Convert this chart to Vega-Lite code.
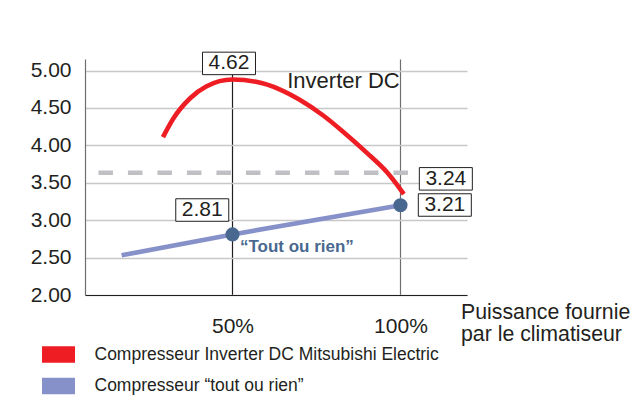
{
  "$schema": "https://vega.github.io/schema/vega-lite/v6.json",
  "width": 382,
  "height": 236,
  "autosize": {"type": "none"},
  "padding": {"left": 85, "top": 59, "right": 177, "bottom": 117},
  "background": "white",
  "config": {"view": {"stroke": null}, "font": "Liberation Sans"},
  "datasets": {
    "curves": [
      {"serie": "Compresseur Inverter DC Mitsubishi Electric", "x": 29.3, "y": 4.11},
      {"serie": "Compresseur Inverter DC Mitsubishi Electric", "x": 32.4, "y": 4.36},
      {"serie": "Compresseur Inverter DC Mitsubishi Electric", "x": 37.4, "y": 4.63},
      {"serie": "Compresseur Inverter DC Mitsubishi Electric", "x": 42.3, "y": 4.79},
      {"serie": "Compresseur Inverter DC Mitsubishi Electric", "x": 50, "y": 4.88},
      {"serie": "Compresseur Inverter DC Mitsubishi Electric", "x": 57, "y": 4.85},
      {"serie": "Compresseur Inverter DC Mitsubishi Electric", "x": 64, "y": 4.75},
      {"serie": "Compresseur Inverter DC Mitsubishi Electric", "x": 70, "y": 4.61},
      {"serie": "Compresseur Inverter DC Mitsubishi Electric", "x": 77, "y": 4.40},
      {"serie": "Compresseur Inverter DC Mitsubishi Electric", "x": 83, "y": 4.18},
      {"serie": "Compresseur Inverter DC Mitsubishi Electric", "x": 90, "y": 3.90},
      {"serie": "Compresseur Inverter DC Mitsubishi Electric", "x": 96, "y": 3.64},
      {"serie": "Compresseur Inverter DC Mitsubishi Electric", "x": 101, "y": 3.35},
      {"serie": "Compresseur “tout ou rien”", "x": 17, "y": 2.53},
      {"serie": "Compresseur “tout ou rien”", "x": 50, "y": 2.81},
      {"serie": "Compresseur “tout ou rien”", "x": 100, "y": 3.2}
    ],
    "dashed": [{"x": 10.1, "x2": 102.3, "y": 3.634}],
    "dots": [{"x": 50, "y": 2.81}, {"x": 100, "y": 3.2}],
    "boxes": [
      {"label": "4.62", "x": 48.96, "y": 5.096},
      {"label": "2.81", "x": 41.0, "y": 3.136},
      {"label": "3.24", "x": 113.5, "y": 3.553},
      {"label": "3.21", "x": 113.2, "y": 3.203}
    ],
    "notes": [{"text": "Inverter DC", "x": 66.3, "y": 4.762}],
    "notes2": [{"text": "“Tout ou rien”", "x": 52.2, "y": 2.578}]
  },
  "encoding": {
    "x": {
      "field": "x", "type": "quantitative",
      "scale": {"domain": [6.1, 119.8], "nice": false, "zero": false},
      "axis": {
        "values": [50, 100],
        "labelExpr": "datum.value + '%'",
        "title": ["Puissance fournie", "par le climatiseur"],
        "titleX": 375.5, "titleY": 6.5,
        "titleAlign": "left", "titleBaseline": "top",
        "titleFontSize": 21.3, "titleFontWeight": "normal", "titleColor": "#231f20",
        "titleLineHeight": 22,
        "labelFontSize": 21, "labelColor": "#231f20", "labelPadding": 20,
        "ticks": false,
        "domainColor": "#231f20", "domainWidth": 1.2,
        "grid": true,
        "gridColor": {"condition": {"test": "datum.value === 50", "value": "#231f20"}, "value": "#6d6e71"},
        "gridWidth": 1.2, "gridOpacity": 1
      }
    },
    "y": {
      "field": "y", "type": "quantitative",
      "scale": {"domain": [2, 5.155], "nice": false, "zero": false},
      "axis": {
        "values": [2, 2.5, 3, 3.5, 4, 4.5, 5],
        "format": ".2f",
        "title": null,
        "labelFontSize": 21, "labelColor": "#231f20", "labelPadding": 14,
        "ticks": false,
        "domainColor": "#6d6e71", "domainWidth": 1.2,
        "grid": true, "gridColor": "#c8c8c8", "gridWidth": 1.6, "gridOpacity": 1
      }
    }
  },
  "layer": [
    {
      "data": {"name": "dashed"},
      "mark": {"type": "rule", "color": "#c0c0c4", "strokeWidth": 4.3, "strokeDash": [14.5, 15]},
      "encoding": {"x2": {"field": "x2"}}
    },
    {
      "data": {"name": "curves"},
      "mark": {"type": "line", "interpolate": "monotone", "strokeWidth": 4.6},
      "encoding": {
        "color": {
          "field": "serie", "type": "nominal",
          "scale": {
            "domain": ["Compresseur Inverter DC Mitsubishi Electric", "Compresseur “tout ou rien”"],
            "range": ["#ee1d23", "#8791c9"]
          },
          "legend": {
            "orient": "none", "legendX": -43, "legendY": 279,
            "title": null,
            "symbolType": "M-1,-0.5H1V0.5H-1Z", "symbolSize": 1089, "symbolStrokeWidth": 0,
            "labelFontSize": 17.5, "labelColor": "#231f20", "labelOffset": 19.5,
            "labelLimit": 500,
            "rowPadding": 6.5, "padding": 0,
            "encode": {
              "symbols": {
                "update": {
                  "fill": {"scale": "color", "field": "value"},
                  "fillOpacity": {"value": 1},
                  "strokeWidth": {"value": 0}
                }
              }
            }
          }
        }
      }
    },
    {
      "data": {"name": "dots"},
      "mark": {"type": "point", "filled": true, "size": 200, "color": "#49688f", "opacity": 1}
    },
    {
      "data": {"name": "boxes"},
      "mark": {"type": "rect", "width": 53, "height": 22.5, "fill": "white", "stroke": "#231f20", "strokeWidth": 1}
    },
    {
      "data": {"name": "boxes"},
      "mark": {"type": "text", "fontSize": 21, "color": "#231f20", "align": "center", "baseline": "middle"},
      "encoding": {"text": {"field": "label"}}
    },
    {
      "data": {"name": "notes"},
      "mark": {"type": "text", "fontSize": 22, "color": "#231f20", "align": "left", "baseline": "alphabetic"},
      "encoding": {"text": {"field": "text"}}
    },
    {
      "data": {"name": "notes2"},
      "mark": {"type": "text", "fontSize": 17, "fontWeight": "bold", "color": "#49688f", "align": "left", "baseline": "alphabetic"},
      "encoding": {"text": {"field": "text"}}
    }
  ]
}
